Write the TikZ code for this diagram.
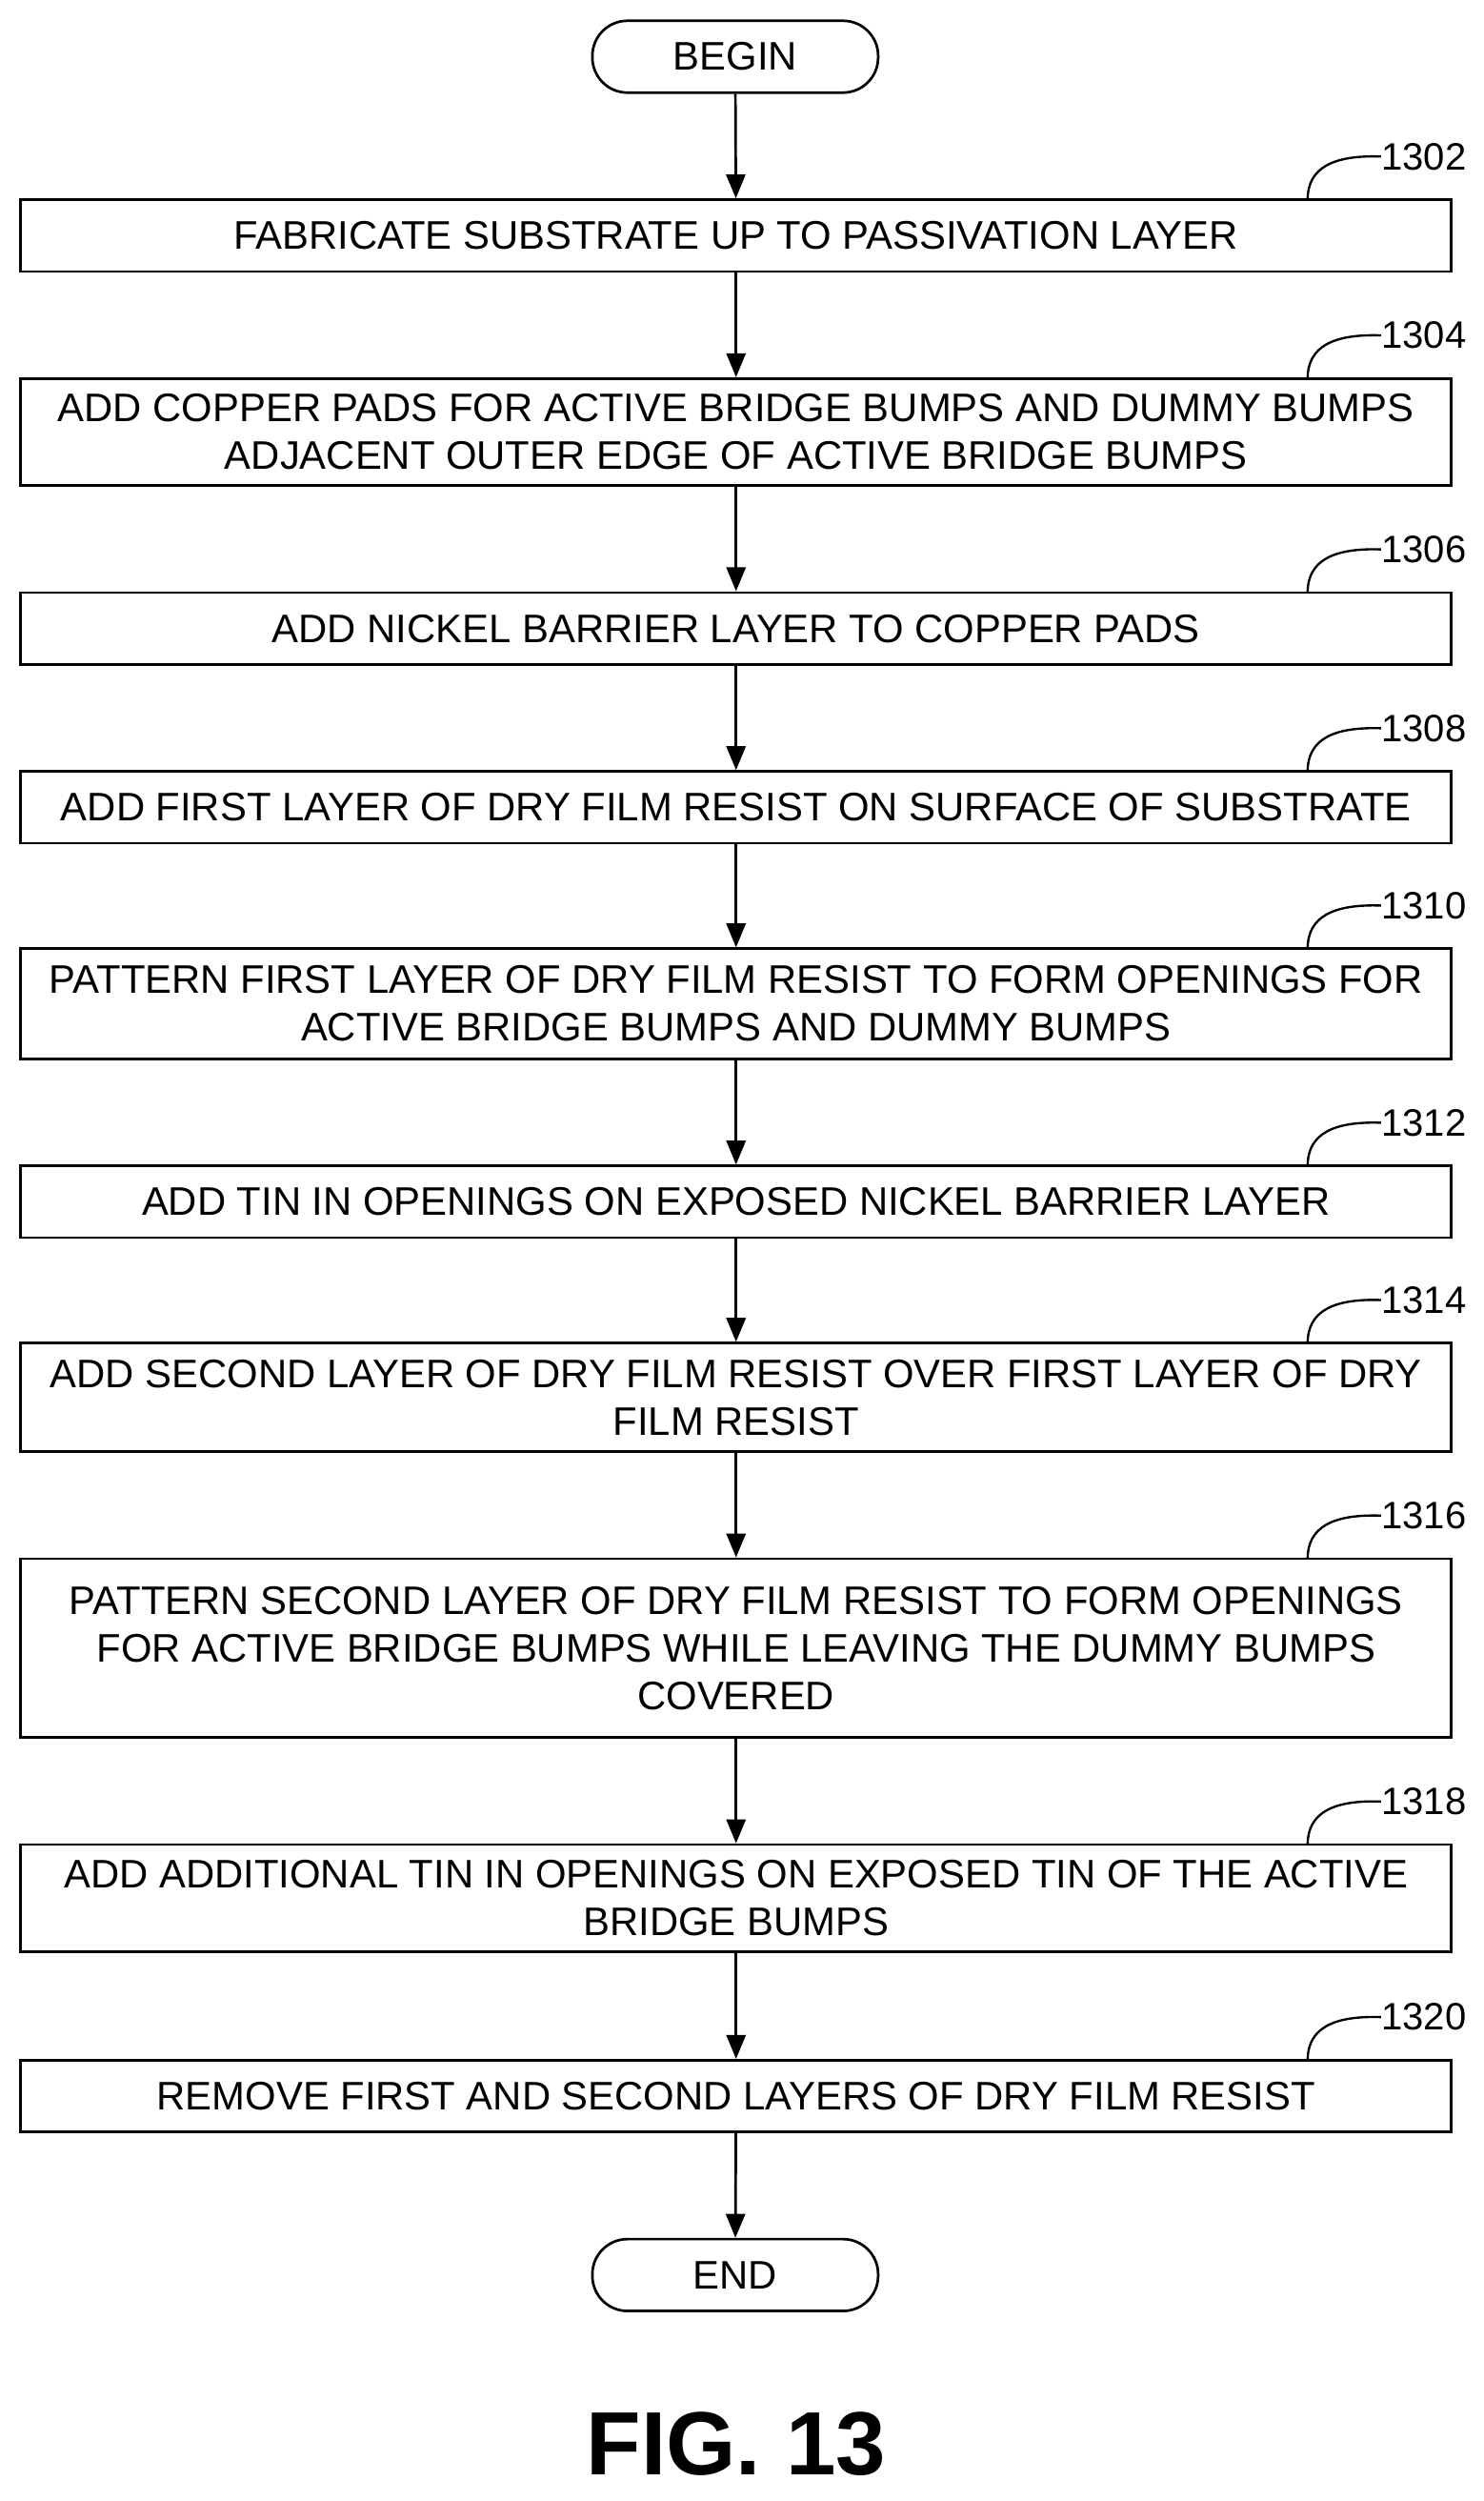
\documentclass[tikz,border=0pt]{standalone}
\usepackage{fontspec}
\setmainfont{Liberation Sans}
\usetikzlibrary{arrows.meta}
\begin{document}
\begin{tikzpicture}[x=0.05cm,y=-0.05cm,
  box/.style={draw,line width=2.3pt,minimum width=44.8cm,align=center,inner sep=0pt,font=\fontsize{35.5}{42.5}\selectfont},
  term/.style={draw,line width=2.3pt,rounded corners=1.1cm,minimum width=8.95cm,minimum height=2.25cm,font=\fontsize{35.5}{42}\selectfont},
  arr/.style={line width=2.3pt,-{Triangle[length=0.75cm,width=0.6cm]}},
  ref/.style={font=\fontsize{34}{38}\selectfont,anchor=west,inner sep=0pt},
  lead/.style={line width=2pt}]
\useasboundingbox (0,0) rectangle (929,1566);
\node[term] (b) at (460.5,35.5) {BEGIN};
\node[box,minimum height=2.25cm] (s1) at (461,147.5) {FABRICATE SUBSTRATE UP TO PASSIVATION LAYER};
\node[box,minimum height=3.35cm] (s2) at (461,270.5) {ADD COPPER PADS FOR ACTIVE BRIDGE BUMPS AND DUMMY BUMPS\\ADJACENT OUTER EDGE OF ACTIVE BRIDGE BUMPS};
\node[box,minimum height=2.25cm] (s3) at (461,393.5) {ADD NICKEL BARRIER LAYER TO COPPER PADS};
\node[box,minimum height=2.25cm] (s4) at (461,505.5) {ADD FIRST LAYER OF DRY FILM RESIST ON SURFACE OF SUBSTRATE};
\node[box,minimum height=3.45cm] (s5) at (461,628.5) {PATTERN FIRST LAYER OF DRY FILM RESIST TO FORM OPENINGS FOR\\ACTIVE BRIDGE BUMPS AND DUMMY BUMPS};
\node[box,minimum height=2.25cm] (s6) at (461,752.5) {ADD TIN IN OPENINGS ON EXPOSED NICKEL BARRIER LAYER};
\node[box,minimum height=3.4cm] (s7) at (461,875) {ADD SECOND LAYER OF DRY FILM RESIST OVER FIRST LAYER OF DRY\\FILM RESIST};
\node[box,minimum height=5.6cm] (s8) at (461,1032) {PATTERN SECOND LAYER OF DRY FILM RESIST TO FORM OPENINGS\\FOR ACTIVE BRIDGE BUMPS WHILE LEAVING THE DUMMY BUMPS\\COVERED};
\node[box,minimum height=3.35cm] (s9) at (461,1188.5) {ADD ADDITIONAL TIN IN OPENINGS ON EXPOSED TIN OF THE ACTIVE\\BRIDGE BUMPS};
\node[box,minimum height=2.25cm] (s10) at (461,1312.5) {REMOVE FIRST AND SECOND LAYERS OF DRY FILM RESIST};
\node[term] (e) at (460.5,1424.5) {END};
\foreach \a/\bb in {b/s1,s1/s2,s2/s3,s3/s4,s4/s5,s5/s6,s6/s7,s7/s8,s8/s9,s9/s10,s10/e}
  \draw[arr] (\a) -- (\bb);
\foreach \n/\y/\t in {s1/125/1302,s2/237/1304,s3/371/1306,s4/483/1308,s5/594/1310,s6/730/1312,s7/841/1314,s8/976/1316,s9/1155/1318,s10/1290/1320}{
  \node[ref] (r\t) at (865,\y-27) {\t};
  \coordinate (c\t) at (819,\y);
  \draw[lead] (c\t) .. controls (819,\y-20) and (835,\y-28) .. (r\t.west);
}
\node[font=\bfseries\fontsize{80}{90}\selectfont] (fig) at (461,1530) {FIG. 13};
\end{tikzpicture}
\end{document}
